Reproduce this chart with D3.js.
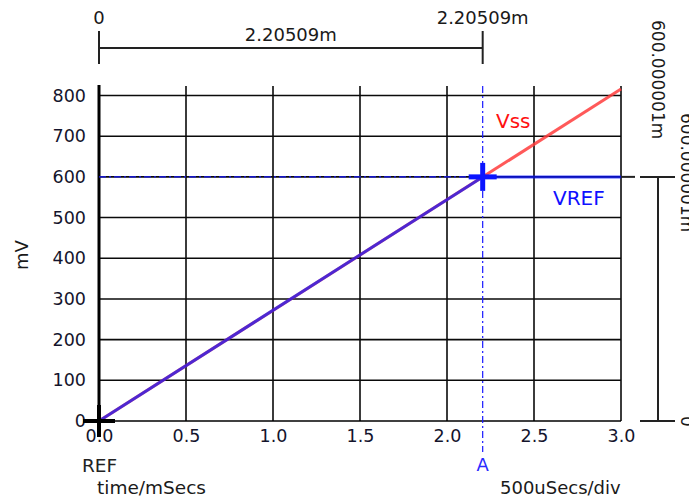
<!DOCTYPE html>
<html lang='en'>
	<head>
		<meta charset='utf-8'>
		<title>Vss / VREF</title>
		<script src="https://d3js.org/d3.v7.min.js"></script>
		<style type="text/css">
			body { margin: 0; background: #fff; }
			text { font-family: "DejaVu Sans", Verdana, sans-serif; }
		</style>
	</head>
	<body>
		<script type='text/javascript'>
			//Data
			var xTicks = [0, 0.5, 1.0, 1.5, 2.0, 2.5, 3.0];
			var xTickLabels = ["0.0", "0.5", "1.0", "1.5", "2.0", "2.5", "3.0"];
			var yTicks = [0, 100, 200, 300, 400, 500, 600, 700, 800];
			var vssTime = [0, 3.0];
			var vssMv = [0, 816];
			var vrefTime = [0, 2.20509, 3.0];
			var vrefMv = [0, 600, 600];
			var cursorTime = 2.20509;
			var cursorMv = 600;
			var deltaLabel = "2.20509m";
			var levelLabel = "600.000001m";

			//Width and height
			var w = 689;
			var h = 500;

			var svg = d3.select("body")
						.append("svg")
						.attr("width", w)
						.attr("height", h);

			var x = d3.scaleLinear().domain([0, 3]).range([99, 621]);
			var y = d3.scaleLinear().domain([0, 800]).range([421, 95.5]);
			var plotTop = y(826);

			//Grid
			svg.selectAll(".hgrid")
			   .data(yTicks.slice(1))
			   .enter().append("line")
			   .attr("x1", x(0)).attr("x2", x(3))
			   .attr("y1", function(d) { return y(d); })
			   .attr("y2", function(d) { return y(d); })
			   .attr("stroke", "#0a0a0a").attr("stroke-width", 1.6);

			svg.selectAll(".vgrid")
			   .data(xTicks.slice(1))
			   .enter().append("line")
			   .attr("x1", function(d) { return x(d); })
			   .attr("x2", function(d) { return x(d); })
			   .attr("y1", plotTop + 1).attr("y2", y(0))
			   .attr("stroke", "#0a0a0a").attr("stroke-width", 1.6);

			//Axes
			svg.append("line")
			   .attr("x1", x(0)).attr("x2", x(3))
			   .attr("y1", y(0)).attr("y2", y(0))
			   .attr("stroke", "#000").attr("stroke-width", 1.6);
			svg.append("line")
			   .attr("x1", x(0)).attr("x2", x(0))
			   .attr("y1", plotTop).attr("y2", y(0))
			   .attr("stroke", "#000").attr("stroke-width", 3);

			var yAxis = svg.append("g")
						   .attr("transform", "translate(" + x(0) + ",0)")
						   .call(d3.axisLeft(y).tickValues(yTicks).tickSize(0).tickPadding(13));
			var xAxis = svg.append("g")
						   .attr("transform", "translate(0," + y(0) + ")")
						   .call(d3.axisBottom(x).tickValues(xTicks).tickSize(0).tickPadding(9)
						   .tickFormat(function(d, i) { return xTickLabels[i]; }));
			[yAxis, xAxis].forEach(function(g) {
				g.select(".domain").remove();
				g.selectAll("text")
				 .attr("fill", "#14142c")
				 .style("font-size", "17.5px")
				 .style("font-family", "DejaVu Sans, Verdana, sans-serif");
			});

			//Cursor lines (dash-dot)
			svg.append("line")
			   .attr("x1", x(0)).attr("x2", x(cursorTime))
			   .attr("y1", y(cursorMv)).attr("y2", y(cursorMv))
			   .attr("stroke", "#1a1aff").attr("stroke-width", 1.2)
			   .attr("stroke-dasharray", "7,3,2,3");
			svg.append("line")
			   .attr("x1", x(cursorTime)).attr("x2", x(cursorTime))
			   .attr("y1", plotTop + 1).attr("y2", 452)
			   .attr("stroke", "#1a1aff").attr("stroke-width", 1.2)
			   .attr("stroke-dasharray", "7,3,2,3");

			//Traces
			var line = d3.line()
						 .x(function(d) { return x(d[0]); })
						 .y(function(d) { return y(d[1]); });

			svg.append("path")
			   .datum(d3.zip(vssTime, vssMv))
			   .attr("d", line)
			   .attr("fill", "none")
			   .attr("stroke", "#ff3c3c")
			   .attr("stroke-opacity", 0.85)
			   .attr("stroke-width", 3);

			svg.append("path")
			   .datum(d3.zip(vrefTime, vrefMv))
			   .attr("d", line)
			   .attr("fill", "none")
			   .attr("stroke", "#0a14ff")
			   .attr("stroke-opacity", 0.72)
			   .attr("stroke-width", 3);

			//Cursor crosses
			function cross(cx, cy, half, up, down, col, sw) {
				svg.append("line")
				   .attr("x1", cx - half).attr("x2", cx + half)
				   .attr("y1", cy).attr("y2", cy)
				   .attr("stroke", col).attr("stroke-width", sw);
				svg.append("line")
				   .attr("x1", cx).attr("x2", cx)
				   .attr("y1", cy - up).attr("y2", cy + down)
				   .attr("stroke", col).attr("stroke-width", sw);
			}
			cross(x(0), y(0), 16, 16, 16, "#000", 4);
			cross(x(cursorTime), y(cursorMv), 14, 14, 14, "#0a14ff", 5);

			//Trace labels
			svg.append("text").attr("x", 496).attr("y", 128)
			   .attr("fill", "#ff1010").style("font-size", "20px").text("Vss");
			svg.append("text").attr("x", 553).attr("y", 205)
			   .attr("fill", "#1010ff").style("font-size", "20px").text("VREF");

			//Bottom labels
			svg.append("text").attr("x", 82).attr("y", 472)
			   .attr("fill", "#222").style("font-size", "18.5px").text("REF");
			svg.append("text").attr("x", x(cursorTime)).attr("y", 471)
			   .attr("text-anchor", "middle")
			   .attr("fill", "#2a2aff").style("font-size", "18px").text("A");
			svg.append("text").attr("x", 97).attr("y", 494)
			   .attr("fill", "#1a1a1a").style("font-size", "18.5px").text("time/mSecs");
			svg.append("text").attr("x", 500).attr("y", 494)
			   .attr("fill", "#1a1a1a").style("font-size", "18px").text("500uSecs/div");

			svg.append("text")
			   .attr("transform", "translate(28,255) rotate(-90)")
			   .attr("text-anchor", "middle")
			   .attr("fill", "#1a1a1a").style("font-size", "18px").text("mV");

			//Top time measurement
			var mx0 = x(0), mx1 = x(cursorTime);
			svg.append("line").attr("x1", mx0).attr("x2", mx1).attr("y1", 48).attr("y2", 48)
			   .attr("stroke", "#222").attr("stroke-width", 2);
			[mx0, mx1].forEach(function(d) {
				svg.append("line").attr("x1", d).attr("x2", d).attr("y1", 31).attr("y2", 64)
				   .attr("stroke", "#222").attr("stroke-width", 2);
			});
			svg.append("text").attr("x", mx0).attr("y", 24).attr("text-anchor", "middle")
			   .attr("fill", "#1a1a1a").style("font-size", "18px").text("0");
			svg.append("text").attr("x", mx1).attr("y", 24).attr("text-anchor", "middle")
			   .attr("fill", "#1a1a1a").style("font-size", "18px").text(deltaLabel);
			svg.append("text").attr("x", (mx0 + mx1) / 2).attr("y", 41).attr("text-anchor", "middle")
			   .attr("fill", "#1a1a1a").style("font-size", "18px").text(deltaLabel);

			//Right level measurement
			var my0 = y(0), my1 = y(cursorMv);
			svg.append("line").attr("x1", x(3)).attr("x2", 635).attr("y1", my1).attr("y2", my1)
			   .attr("stroke", "#222").attr("stroke-width", 2);
			svg.append("line").attr("x1", 658).attr("x2", 658).attr("y1", my1).attr("y2", my0)
			   .attr("stroke", "#222").attr("stroke-width", 2);
			[my0, my1].forEach(function(d) {
				svg.append("line").attr("x1", 640).attr("x2", 675).attr("y1", d).attr("y2", d)
				   .attr("stroke", "#222").attr("stroke-width", 2);
			});
			svg.append("text").attr("transform", "translate(652,20) rotate(90)")
			   .attr("fill", "#1a1a1a").style("font-size", "17px").text(levelLabel);
			svg.append("text").attr("transform", "translate(681,113) rotate(90)")
			   .attr("fill", "#1a1a1a").style("font-size", "17px").text(levelLabel);
			svg.append("text").attr("transform", "translate(681,416) rotate(90)")
			   .attr("fill", "#1a1a1a").style("font-size", "17px").text("0");
		</script>
	</body>
</html>
